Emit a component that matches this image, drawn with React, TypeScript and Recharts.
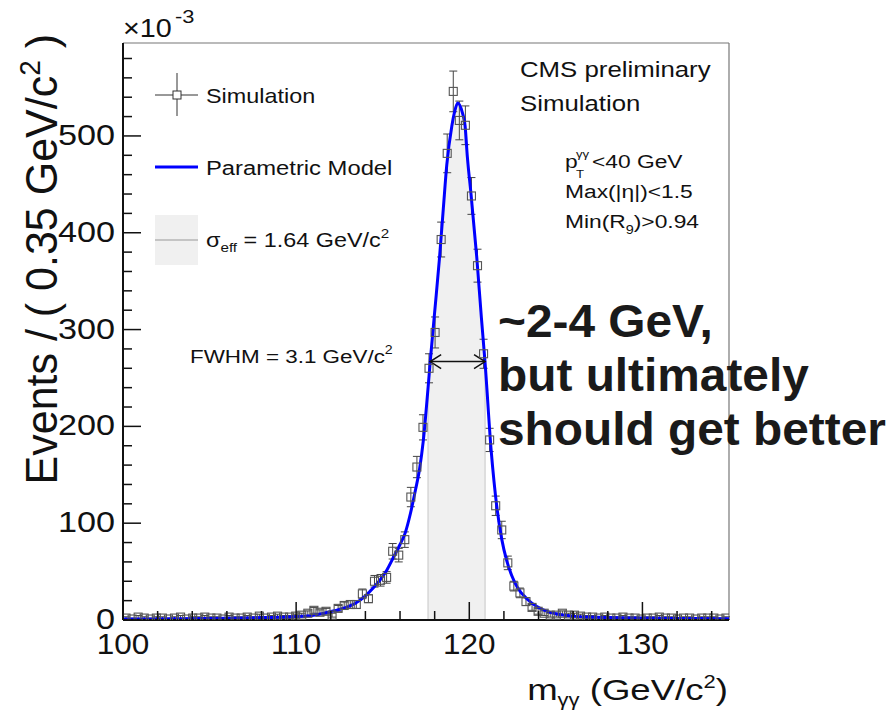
import React from 'react';
import { ComposedChart, XAxis, YAxis, Line, Area, Scatter, ErrorBar, ReferenceLine } from 'recharts';

// Histogram binning (100 bins of 0.35 GeV from 100 to 135)
const BIN_START = 100;
const BIN_WIDTH = 0.35;

// Simulated events per bin (x10^-3)
const counts = [
  2, 1, 3, 2, 1, 2, 2, 1, 2, 3,
  1, 2, 2, 3, 2, 2, 1, 3, 2, 2,
  3, 2, 4, 2, 3, 4, 3, 3, 4, 5,
  7, 10, 8, 9, 5, 12, 15, 16, 16, 27,
  22, 40, 41, 44, 71, 67, 83, 127, 158, 199,
  260, 297, 393, 482, 546, 516, 511, 438, 366, 275,
  186, 118, 93, 59, 35, 28, 19, 13, 9, 7,
  5, 5, 7, 5, 5, 4, 3, 3, 2, 3,
  2, 2, 3, 2, 2, 1, 2, 2, 3, 2,
  2, 1, 2, 2, 1, 2, 2, 2, 1, 2,
];

const countErrors = [
  1.3, 0.9, 1.6, 1.3, 0.9, 1.3, 1.3, 0.9, 1.3, 1.6,
  0.9, 1.3, 1.3, 1.6, 1.3, 1.3, 0.9, 1.6, 1.3, 1.3,
  1.6, 1.3, 2, 1.3, 1.6, 2, 1.6, 1.6, 2, 2,
  2.4, 3, 2.5, 3, 2, 3, 3.5, 4, 4, 5,
  4, 6, 6, 6, 8, 7, 8, 10, 11, 13,
  15, 16, 18, 20, 21, 20, 20, 19, 17, 15,
  12, 10, 9, 7, 5, 5, 4, 3, 3, 2.4,
  2, 2, 2.4, 2, 2, 2, 1.6, 1.6, 1.3, 1.6,
  1.3, 1.3, 1.6, 1.3, 1.3, 0.9, 1.3, 1.3, 1.6, 1.3,
  1.3, 0.9, 1.3, 1.3, 0.9, 1.3, 1.3, 1.3, 0.9, 1.3,
];

// Parametric model curve
const modelX = [
  100, 103, 106, 108, 110, 111, 111.6, 112.2, 112.8, 113.4,
  114, 114.5, 115, 115.25, 115.6, 116, 116.3, 116.6, 116.9, 117.12,
  117.35, 117.62, 117.74, 118, 118.27, 118.5, 118.7, 118.99, 119.14, 119.33,
  119.6, 119.76, 119.89, 120.1, 120.43, 120.7, 120.91, 121.26, 121.59, 121.88,
  122.15, 122.45, 122.8, 123.32, 123.9, 124.5, 125, 126, 127, 128,
  130, 132, 135,
];
const modelY = [
  1.0, 1.3, 1.8, 2.5, 3.5, 5, 7, 9.5, 12.5, 17,
  25, 34, 45, 52, 64, 78, 90, 110, 135, 155,
  186, 240, 266, 318, 372, 425, 470, 510, 524, 534,
  524, 510, 478, 440, 375, 312, 266, 176, 117, 83,
  62, 46, 33, 22, 14, 9, 6.5, 4, 3, 2.5,
  2, 1.6, 1.4,
];

// sigma_eff band and FWHM
const effBand = [117.62, 120.91];
const fwhmEdges = [117.74, 120.91];
const halfMax = 267;

const xTicks = [100, 102, 104, 106, 108, 110, 112, 114, 116, 118, 120, 122, 124, 126, 128, 130, 132, 134];
const xMajor = [100, 110, 120, 130];
const yTicks = [0, 20, 40, 60, 80, 100, 120, 140, 160, 180, 200, 220, 240, 260, 280, 300, 320, 340, 360, 380, 400, 420, 440, 460, 480, 500, 520, 540, 560, 580];
const yMajor = [0, 100, 200, 300, 400, 500];
const X_DOMAIN = [100, 135];
const Y_DOMAIN = [0, 596];

const simData = counts.map((c, i) => ({ x: BIN_START + BIN_WIDTH * (i + 0.5), y: c, err: countErrors[i] }));
const modelData = modelX.map((x, i) => ({ x, y: modelY[i] }));
const bandData = modelData.filter((d) => d.x >= effBand[0] && d.x <= effBand[1]);
const bandEdgeValue = (e: number) => {
  const p = modelData.find((d) => d.x === e);
  return p ? p.y : 0;
};

const FONT = '"Liberation Sans", Arial, Helvetica, sans-serif';

const YTick = (p: any) => {
  const v = p.payload.value;
  const major = yMajor.includes(v);
  return (
    <g>
      <line x1={p.x} x2={p.x + (major ? 18 : 9)} y1={p.y} y2={p.y} stroke="#111" strokeWidth={1.5} />
      {major && (
        <text transform={`translate(${p.x - 8},${p.y + 9}) scale(1.18,1)`} textAnchor="end" fontSize={29} fill="#111">
          {v}
        </text>
      )}
    </g>
  );
};

const XTick = (p: any) => {
  const v = p.payload.value;
  const major = xMajor.includes(v);
  return (
    <g>
      <line x1={p.x} x2={p.x} y1={p.y} y2={p.y - (major ? 18 : 9)} stroke="#111" strokeWidth={1.5} />
      {major && (
        <text transform={`translate(${p.x},${p.y + 34}) scale(1.05,1)`} textAnchor="middle" fontSize={30} fill="#111">
          {v}
        </text>
      )}
    </g>
  );
};

const Square = (p: any) => {
  if (p.cx == null || p.cy == null) return null;
  return <rect x={p.cx - 4} y={p.cy - 4} width={8} height={8} fill="none" stroke="#555" strokeWidth={1.1} />;
};

const ArrowShape = (p: any) => {
  const { x1, y1, x2, y2 } = p;
  return (
    <g stroke="#111" strokeWidth={1.5} fill="none">
      <line x1={x1} y1={y1} x2={x2} y2={y2} />
      <polyline points={`${x1 + 11},${y1 - 7} ${x1},${y1} ${x1 + 11},${y1 + 7}`} />
      <polyline points={`${x2 - 11},${y2 - 7} ${x2},${y2} ${x2 - 11},${y2 + 7}`} />
    </g>
  );
};

const T = ({ x, y, s = 1.2, size, anchor = 'start', weight = 'normal', fill = '#111', children }: any) => (
  <text transform={`translate(${x},${y}) scale(${s},1)`} fontSize={size} textAnchor={anchor} fontWeight={weight} fill={fill}>
    {children}
  </text>
);

export default function App() {
  return (
    <div style={{ position: 'absolute', left: 0, top: 0, width: 895, height: 710, fontFamily: FONT, background: '#fff' }}>
      <ComposedChart width={895} height={710} margin={{ top: 43, right: 166, bottom: 50, left: 0 }}>
        <XAxis
          dataKey="x"
          type="number"
          domain={X_DOMAIN}
          ticks={xTicks}
          interval={0}
          allowDataOverflow
          height={40}
          tickSize={0}
          tickMargin={0}
          tickLine={false}
          axisLine={{ stroke: '#111', strokeWidth: 2 }}
          tick={<XTick />}
        />
        <YAxis
          type="number"
          domain={Y_DOMAIN}
          ticks={yTicks}
          interval={0}
          allowDataOverflow
          width={123}
          tickSize={0}
          tickMargin={0}
          tickLine={false}
          axisLine={{ stroke: '#111', strokeWidth: 2 }}
          tick={<YTick />}
        />
        <ReferenceLine y={Y_DOMAIN[1]} stroke="#777" strokeWidth={1.2} />
        <ReferenceLine x={X_DOMAIN[1]} stroke="#777" strokeWidth={1.2} />
        <Area
          data={bandData}
          dataKey="y"
          type="monotone"
          fill="#f0f0f0"
          fillOpacity={1}
          stroke="#e2e2e2"
          isAnimationActive={false}
        />
        {effBand.map((e) => (
          <ReferenceLine
            key={e}
            segment={[{ x: e, y: 0 }, { x: e, y: bandEdgeValue(e) }]}
            stroke="#d6d6d6"
            strokeWidth={1.5}
          />
        ))}
        <Scatter data={simData} dataKey="y" shape={<Square />} isAnimationActive={false}>
          <ErrorBar dataKey="err" direction="y" width={4} stroke="#444" strokeWidth={1} />
        </Scatter>
        <Line
          data={modelData}
          dataKey="y"
          type="monotone"
          stroke="#0000ff"
          strokeWidth={3}
          dot={false}
          isAnimationActive={false}
        />
        <ReferenceLine
          segment={[{ x: fwhmEdges[0], y: halfMax }, { x: fwhmEdges[1], y: halfMax }]}
          shape={<ArrowShape />}
        />
      </ComposedChart>

      <svg width={895} height={710} style={{ position: 'absolute', left: 0, top: 0, pointerEvents: 'none', fontFamily: FONT }}>
        {/* exponent */}
        <T x={123} y={37} size={25} s={1.15}>×10</T>
        <T x={175} y={23} size={19} s={1.15}>-3</T>

        {/* Y axis title */}
        <text transform="translate(57,34) scale(1.05,1) rotate(-90)" textAnchor="end" fontSize={43} fill="#111">
          Events / ( 0.35 GeV/c<tspan fontSize={28} dy={-16}>2</tspan>
          <tspan dy={16}> )</tspan>
        </text>

        {/* X axis title */}
        <text transform="translate(728,700) scale(1.22,1)" textAnchor="end" fontSize={30} fill="#111">
          m<tspan fontSize={18} dy={6}>γγ</tspan>
          <tspan dy={-6}> (GeV/c</tspan>
          <tspan fontSize={18} dy={-12}>2</tspan>
          <tspan dy={12}>)</tspan>
        </text>

        {/* Legend */}
        <line x1={155} x2={198} y1={95} y2={95} stroke="#333" strokeWidth={1} />
        <line x1={177} x2={177} y1={73} y2={116} stroke="#333" strokeWidth={1} />
        <rect x={173} y={91} width={8} height={8} fill="#fff" stroke="#333" strokeWidth={1} />
        <T x={206} y={103} size={20} s={1.17}>Simulation</T>

        <line x1={155} x2={198} y1={167} y2={167} stroke="#0000ff" strokeWidth={3} />
        <T x={206} y={175} size={20} s={1.19}>Parametric Model</T>

        <rect x={155} y={215} width={43} height={50} fill="#f0f0f0" />
        <line x1={155} x2={198} y1={240} y2={240} stroke="#c4c4c4" strokeWidth={2} />
        <text transform="translate(206,247) scale(1.17,1)" fontSize={20} fill="#111">
          σ<tspan fontSize={13} dy={5}>eff</tspan>
          <tspan dy={-5}> = 1.64 GeV/c</tspan>
          <tspan fontSize={13} dy={-9}>2</tspan>
        </text>

        {/* Top right info */}
        <T x={520} y={77} size={21.5}>CMS preliminary</T>
        <T x={520} y={111} size={21.5}>Simulation</T>
        <T x={565} y={168} size={19}>p</T>
        <T x={576} y={158} size={11}>γγ</T>
        <T x={576} y={178} size={11}>T</T>
        <T x={592} y={168} size={19}>{'<40 GeV'}</T>
        <T x={565} y={198} size={19}>{'Max(|η|)<1.5'}</T>
        <text transform="translate(565,228) scale(1.2,1)" fontSize={19} fill="#111">
          Min(R<tspan fontSize={12} dy={6}>9</tspan>
          <tspan dy={-6}>{')>0.94'}</tspan>
        </text>

        {/* FWHM label */}
        <text transform="translate(190,363) scale(1.18,1)" fontSize={19} fill="#111">
          FWHM = 3.1 GeV/c<tspan fontSize={12} dy={-9}>2</tspan>
        </text>

        {/* Bold annotation */}
        <T x={498} y={337} size={46} s={1.04} weight="bold" fill="#1a1a1a">~2-4 GeV,</T>
        <T x={498} y={391} size={46} s={1.04} weight="bold" fill="#1a1a1a">but ultimately</T>
        <T x={498} y={445} size={46} s={1.04} weight="bold" fill="#1a1a1a">should get better</T>
      </svg>
    </div>
  );
}
